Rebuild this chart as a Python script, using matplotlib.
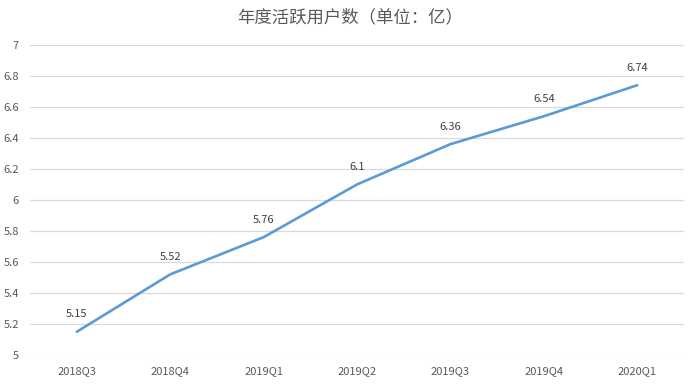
import matplotlib.pyplot as plt

plt.rcParams['font.family'] = ['Noto Sans CJK SC', 'DejaVu Sans']

quarters = ['2018Q3', '2018Q4', '2019Q1', '2019Q2', '2019Q3', '2019Q4', '2020Q1']
users = [5.15, 5.52, 5.76, 6.1, 6.36, 6.54, 6.74]
yticks = [5, 5.2, 5.4, 5.6, 5.8, 6, 6.2, 6.4, 6.6, 6.8, 7]
ytick_labels = ['5', '5.2', '5.4', '5.6', '5.8', '6', '6.2', '6.4', '6.6', '6.8', '7']

fig = plt.figure(figsize=(7, 3.84), dpi=100)
ax = fig.add_axes([0.043, 0.0755, 0.934, 0.8075])

x = list(range(len(quarters)))
ax.plot(x, users, color='#5B9BD5', linewidth=1.9, solid_capstyle='round')

for xi, v in zip(x, users):
    ax.annotate(f'{v:g}', (xi, v), xytext=(0, 9), textcoords='offset points',
                ha='center', va='bottom', fontsize=8, color='#404040')

ax.set_xlim(-0.5, len(quarters) - 0.5)
ax.set_ylim(5, 7)
ax.set_xticks(x)
ax.set_xticklabels(quarters)
ax.set_yticks(yticks)
ax.set_yticklabels(ytick_labels)
ax.tick_params(axis='both', length=0, labelsize=8, labelcolor='#595959')
ax.tick_params(axis='x', pad=8)
ax.tick_params(axis='y', pad=8)
ax.grid(axis='y', color='#D9D9D9', linewidth=0.9)
ax.set_axisbelow(True)
for s in ax.spines.values():
    s.set_visible(False)

fig.text(0.5, 0.955, '年度活跃用户数（单位：亿）', ha='center', va='center',
         fontsize=12.5, color='#595959')

fig.savefig('out.png', dpi=100)
